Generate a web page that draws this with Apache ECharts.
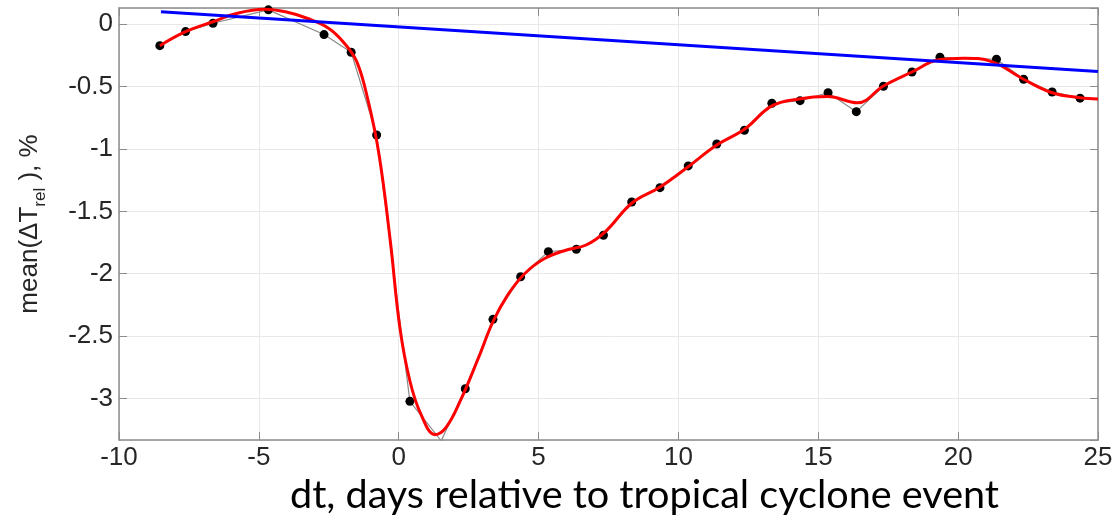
<!DOCTYPE html>
<html>
<head>
<meta charset="utf-8">
<script src="https://cdn.jsdelivr.net/npm/echarts@6/dist/echarts.min.js"></script>
<style>
html,body{margin:0;padding:0;background:#fff;}
#chart{width:1116px;height:531px;}
</style>
</head>
<body>
<div id="chart"></div>
<script>
// Observed data points (black dots, joined by thin gray line)
const dotX = [-8.54, -7.62, -6.64, -4.66, -2.67, -1.70, -0.79, 0.40, 1.52, 2.38, 3.37, 4.36, 5.35, 6.35, 7.32, 8.33, 9.34, 10.35, 11.37, 12.36, 13.34, 14.35, 15.35, 16.36, 17.33, 18.35, 19.35, 21.37, 22.34, 23.36, 24.36];
const dotY = [-0.172, -0.059, 0.008, 0.115, -0.083, -0.225, -0.888, -3.023, -3.339, -2.922, -2.366, -2.024, -1.823, -1.804, -1.692, -1.425, -1.310, -1.136, -0.960, -0.850, -0.634, -0.613, -0.549, -0.701, -0.497, -0.383, -0.265, -0.281, -0.441, -0.543, -0.593];
// Smoothed curve (red)
const redX = [-8.54, -7.62, -6.64, -5.90, -4.81, -4.05, -3.28, -2.51, -1.95, -1.50, -1.10, -0.70, -0.30, 0.04, 0.40, 0.80, 1.30, 1.70, 2.20, 2.86, 3.37, 3.90, 4.50, 5.20, 6.00, 6.70, 7.40, 8.33, 9.33, 10.35, 11.37, 12.36, 13.34, 14.31, 15.33, 16.40, 17.33, 18.35, 19.30, 20.20, 21.20, 22.34, 23.36, 24.36, 25.0];
const redY = [-0.172, -0.06, 0.02, 0.080, 0.12, 0.10, 0.048, -0.032, -0.15, -0.30, -0.607, -1.05, -1.74, -2.43, -2.86, -3.13, -3.29, -3.23, -3.02, -2.67, -2.385, -2.17, -2.00, -1.88, -1.81, -1.77, -1.66, -1.435, -1.307, -1.142, -0.968, -0.842, -0.655, -0.599, -0.58, -0.63, -0.495, -0.383, -0.285, -0.272, -0.30, -0.441, -0.549, -0.589, -0.599];
// Linear trend (blue)
const blueX = [-8.5, 25];
const blueY = [0.10, -0.38];
// Axis ranges / ticks
const xMin = -10, xMax = 25, xStep = 5;
const yMin = -3.333, yMax = 0.13;
const xTitle = 'dt, days relative to tropical cyclone event';

const zip = (a, b) => a.map((v, i) => [v, b[i]]);
const axisGray = '#8c8c8c';
const labelColor = '#262626';
const font = 'Arial';

const chart = echarts.init(document.getElementById('chart'), null, {renderer: 'canvas'});
chart.setOption({
  animation: false,
  backgroundColor: '#ffffff',
  grid: {left: 119, right: 18, top: 8, bottom: 91, containLabel: false},
  xAxis: [{
    type: 'value', min: xMin, max: xMax, interval: xStep, position: 'bottom',
    axisLine: {show: true, onZero: false, lineStyle: {color: axisGray, width: 1.5}},
    axisTick: {show: true, inside: true, length: 8, lineStyle: {color: axisGray}},
    axisLabel: {color: labelColor, fontSize: 26, fontFamily: font, margin: 5},
    splitLine: {show: true, lineStyle: {color: '#e8e8e8', width: 1}}
  }, {
    type: 'value', min: xMin, max: xMax, interval: xStep, position: 'top',
    axisLine: {show: true, onZero: false, lineStyle: {color: axisGray, width: 1.5}},
    axisTick: {show: true, inside: true, length: 8, lineStyle: {color: axisGray}},
    axisLabel: {show: false}, splitLine: {show: false}
  }],
  yAxis: [{
    type: 'value', min: yMin, max: yMax, splitNumber: 7, position: 'left',
    axisLine: {show: true, onZero: false, lineStyle: {color: axisGray, width: 1.5}},
    axisTick: {show: true, inside: true, length: 8, lineStyle: {color: axisGray}},
    axisLabel: {color: labelColor, fontSize: 26, fontFamily: font, margin: 6, showMinLabel: false, showMaxLabel: false},
    splitLine: {show: true, lineStyle: {color: '#e8e8e8', width: 1}},
    name: '{a|mean(ΔT}{s|rel}{a| ), %}',
    nameLocation: 'middle', nameRotate: 90, nameGap: 70,
    nameTextStyle: {
      color: labelColor, fontFamily: font,
      rich: {
        a: {fontSize: 26, fontFamily: font, color: labelColor, lineHeight: 38, verticalAlign: 'middle'},
        s: {fontSize: 17, fontFamily: font, color: labelColor, lineHeight: 17, verticalAlign: 'bottom'}
      }
    }
  }, {
    type: 'value', min: yMin, max: yMax, splitNumber: 7, position: 'right',
    axisLine: {show: true, onZero: false, lineStyle: {color: axisGray, width: 1.5}},
    axisTick: {show: true, inside: true, length: 8, lineStyle: {color: axisGray}},
    axisLabel: {show: false}, splitLine: {show: false}
  }],
  graphic: [{
    type: 'text', left: 290, top: 475,
    style: {text: xTitle, fontSize: 39.6, fontFamily: 'Lato', fill: '#000'}
  }],
  series: [{
    type: 'line', name: 'data', data: zip(dotX, dotY),
    symbol: 'circle', symbolSize: 9, showSymbol: true,
    itemStyle: {color: '#000'}, lineStyle: {color: '#8a8a8a', width: 1.2},
    z: 2
  }, {
    type: 'line', name: 'smooth', data: zip(redX, redY),
    symbol: 'none', smooth: 0.4,
    lineStyle: {color: '#ff0000', width: 3}, z: 3
  }, {
    type: 'line', name: 'trend', data: zip(blueX, blueY),
    symbol: 'none', lineStyle: {color: '#0000ff', width: 3}, z: 4
  }]
});
</script>
</body>
</html>
